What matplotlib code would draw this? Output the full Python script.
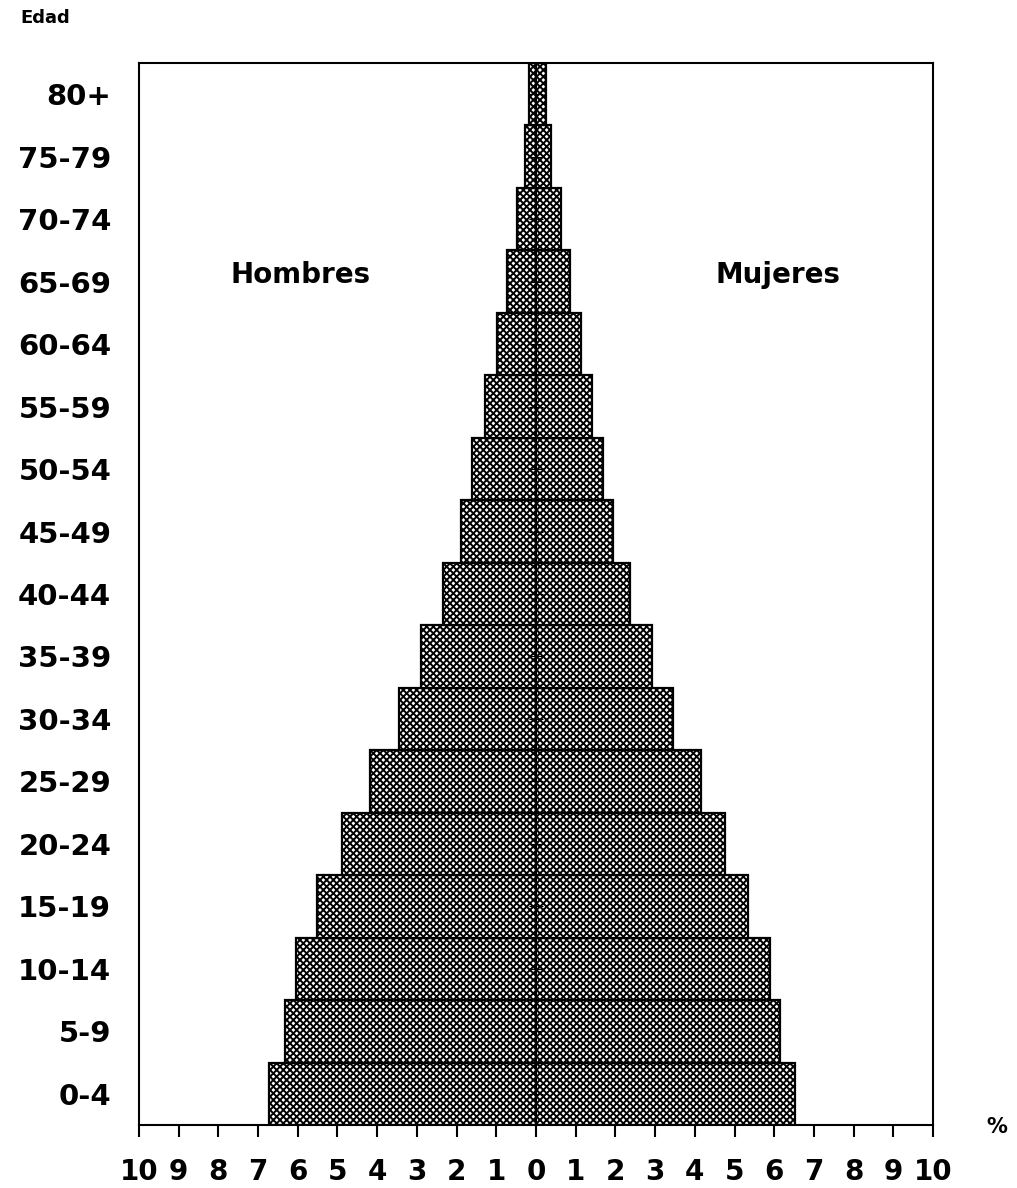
import numpy as np
import matplotlib
matplotlib.use('Agg')
import matplotlib.pyplot as plt

# grupos de edad (de abajo hacia arriba)
grupos = ['0-4', '5-9', '10-14', '15-19', '20-24', '25-29', '30-34', '35-39',
          '40-44', '45-49', '50-54', '55-59', '60-64', '65-69', '70-74',
          '75-79', '80+']
# porcentajes
hombres = [6.73, 6.33, 6.05, 5.52, 4.89, 4.18, 3.44, 2.89,
           2.33, 1.90, 1.60, 1.29, 0.99, 0.73, 0.48, 0.28, 0.17]
mujeres = [6.52, 6.15, 5.90, 5.34, 4.76, 4.16, 3.45, 2.92,
           2.37, 1.94, 1.69, 1.41, 1.13, 0.86, 0.63, 0.38, 0.25]
ticks_x = list(range(-10, 11))

plt.rcParams['font.family'] = ['DejaVu Sans']
plt.rcParams['hatch.linewidth'] = 1.4

fig = plt.figure(figsize=(10.17, 11.88), dpi=100)
ax = fig.add_axes([139 / 1017, 63 / 1188, 794 / 1017, 1062 / 1188])

y = np.arange(len(grupos))
ax.barh(y, [-v for v in hombres], height=1.0, color='white', edgecolor='black',
        hatch='xxxxx', linewidth=1.6)
ax.barh(y, mujeres, height=1.0, color='white', edgecolor='black',
        hatch='xxxxx', linewidth=1.6)

# pequeñas marcas en el eje central
ax.plot(np.zeros(len(y)), y, ls='none', marker='_', ms=10, mew=0.8, color='black')

ax.set_xlim(-10, 10)
ax.set_ylim(-0.5, len(grupos) - 0.5)

ax.set_xticks(ticks_x)
ax.set_xticklabels([str(abs(t)) for t in ticks_x], fontsize=20, fontweight='bold')
ax.set_yticks(y)
ax.set_yticklabels(grupos, fontsize=21, fontweight='bold')
ax.tick_params(axis='x', length=8.6, width=1.5, pad=15, direction='out')
ax.tick_params(axis='y', length=0, pad=20)

for s in ax.spines.values():
    s.set_linewidth(1.5)

ax.text(-5.94, 13.1, 'Hombres', fontsize=20, fontweight='bold', ha='center', va='center')
ax.text(6.1, 13.1, 'Mujeres', fontsize=20, fontweight='bold', ha='center', va='center')

fig.text(20 / 1017, 1 - 18 / 1188, 'Edad', fontsize=13, fontweight='bold', ha='left', va='center')
fig.text(997 / 1017, 1 - 1127 / 1188, '%', fontsize=15, fontweight='bold', ha='center', va='center')

fig.savefig('out.png', dpi=100, facecolor='white')
